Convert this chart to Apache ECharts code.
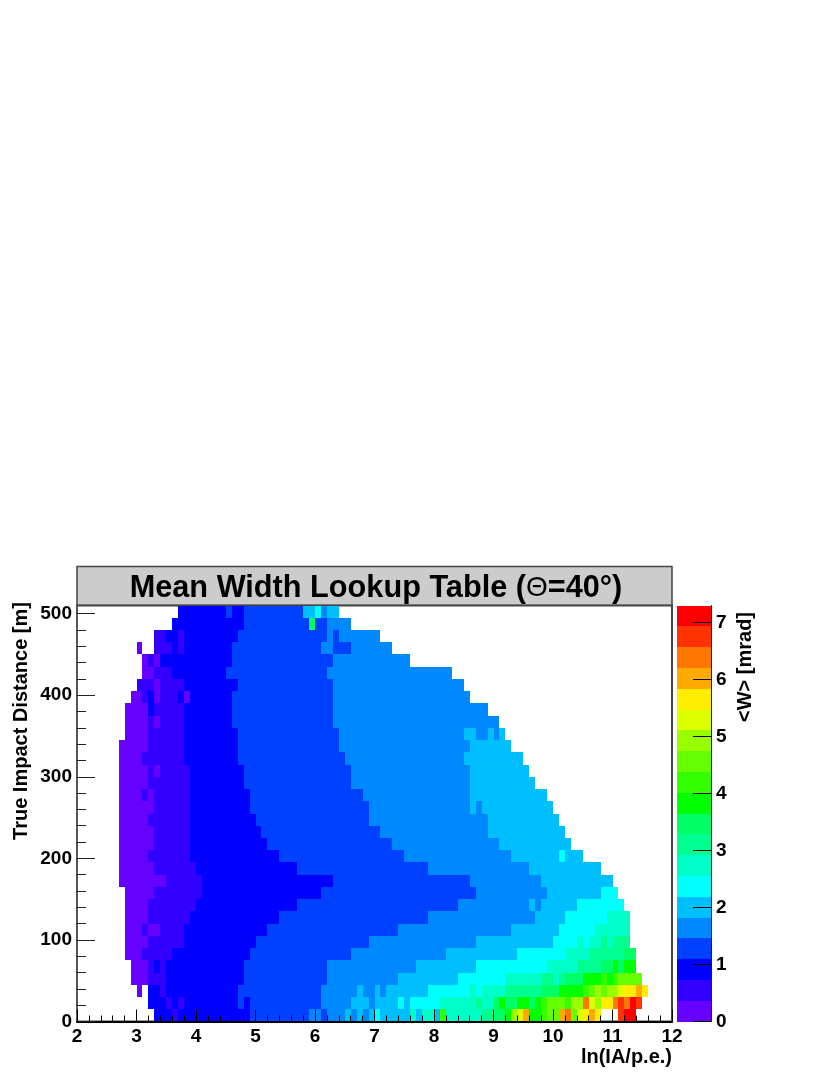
<!DOCTYPE html>
<html>
<head>
<meta charset="utf-8">
<style>html,body{margin:0;padding:0;background:#fff}#c{width:830px;height:1075px}</style>
<script src="https://cdn.jsdelivr.net/npm/echarts@6/dist/echarts.min.js"></script>
</head>
<body>
<div id="c"></div>
<script>
// Mean width <W> [mrad]. Each row is one distance bin: first the left edge, then pairs (value, right edge of the run).
const d495 = [3.7, .9,4.5, 1.3,4.6, .9,4.8, 1.3,5.8, 2,6.0, 2.4,6.1, 1.6,6.2, 2,6.4];
const d480 = [3.6, .9,4.8, 1.3,5.9, 3.5,6.0, 1.3,6.2, 1.6,6.6];
const d465 = [3.3, .5,3.5, .9,3.7, .5,3.8, .9,4.7, 1.3,6.2, 1.6,6.3, 1.3,6.4, 1.6,7.1];
const d450 = [3.0, .2,3.1, null,3.3, .5,3.6, .9,3.7, .5,3.8, .9,4.6, 1.3,6.1, 1.6,6.3, 1.3,6.6, 1.6,7.3];
const d435 = [3.1, .2,3.2, .5,3.3, .2,3.4, .9,4.6, 1.3,6.3, 1.6,7.6];
const d420 = [3.1, .2,3.3, .5,3.6, .9,4.5, 1.3,6.2, 1.6,8.3];
const d405 = [3.0, .5,3.3, .2,3.4, .5,3.8, .9,4.7, 1.3,6.3, 1.6,8.5];
const d390 = [2.9, .2,3.1, .5,3.2, .9,3.3, .2,3.4, .5,3.7, .9,3.8, .2,3.9, .9,4.6, 1.3,6.3, 1.6,8.6];
const d375 = [2.8, .2,3.2, .9,3.3, .5,3.8, .9,4.6, 1.3,6.3, 1.6,8.9];
const d360 = [2.8, .2,3.2, .5,3.3, .2,3.4, .5,3.8, .9,4.6, 1.3,6.3, 1.6,9.1];
const d345 = [2.8, .2,3.2, .5,3.8, .9,4.7, 1.3,6.4, 1.6,8.5, 2,8.7, 1.6,8.9, 2,9.0, 1.6,9.1, 2,9.2];
const d330 = [2.7, .2,3.2, .5,3.8, .9,4.7, 1.3,6.4, 1.6,8.6, 2,9.3];
const d315 = [2.7, .2,3.1, .5,3.8, .9,4.7, 1.3,6.5, 1.6,8.5, 2,9.5];
const d300 = [2.7, .2,3.2, .5,3.3, .2,3.4, .5,3.9, .9,4.8, 1.3,6.6, 1.6,8.6, 2,9.6];
const d285 = [2.7, .2,3.2, .5,3.9, .9,4.8, 1.3,6.6, 1.6,8.6, 2,9.7];
const d270 = [2.7, .2,3.1, .5,3.2, .2,3.3, .5,3.9, .9,4.9, 1.3,6.8, 1.6,8.6, 2,9.9];
const d255 = [2.7, .2,3.3, .5,3.9, .9,4.9, 1.3,6.9, 1.6,8.6, 2,8.7, 1.6,8.8, 2,10.0];
const d240 = [2.7, .2,3.2, .5,3.9, .9,5.0, 1.3,6.9, 1.6,8.9, 2,10.1];
const d225 = [2.7, .2,3.3, .5,3.9, .9,5.1, 1.3,7.1, 1.6,8.9, 2,10.2];
const d210 = [2.7, .2,3.3, .5,3.9, .9,5.2, 1.3,7.3, 1.6,9.1, 2,10.3];
const d195 = [2.7, .2,3.2, .5,3.9, .9,5.4, 1.3,7.5, 1.6,9.3, 2,10.1, 2.4,10.2, 2,10.5];
const d180 = [2.7, .2,3.3, .5,4.0, .9,5.7, 1.3,7.9, 1.6,9.6, 2,10.8];
const d165 = [2.7, .2,3.5, .5,4.1, .9,6.3, 1.3,8.6, 1.6,9.8, 2,11.0];
const d150 = [2.8, .2,3.3, .5,4.1, .9,6.1, 1.3,8.7, 1.6,9.9, 2,10.8, 2.4,11.1];
const d135 = [2.8, .2,3.2, .5,4.0, .9,5.7, 1.3,8.4, 1.6,9.6, 2,9.7, 1.6,9.8, 2,10.4, 2.4,11.2];
const d120 = [2.8, .2,3.2, .5,3.9, .9,5.4, 1.3,7.9, 1.6,9.7, 2,10.2, 2.4,10.9, 2.7,11.3];
const d105 = [2.8, .2,3.1, .5,3.2, .2,3.4, .5,3.8, .9,5.2, 1.3,7.4, 1.6,9.3, 2,10.1, 2.4,10.7, 2.7,11.3];
const d90  = [2.8, .2,3.2, .5,3.8, .9,5.0, 1.3,6.9, 1.6,8.7, 2,10.0, 2.4,10.4, 2.7,10.5, 2.4,10.6, 2.7,10.8, 3.1,10.9, 2.7,11.0, 3.1,11.3];
const d75  = [2.8, .2,3.1, .5,3.6, .9,4.9, 1.3,6.6, 1.6,8.2, 2,9.4, 2.4,10.2, 2.7,10.6, 3.1,11.2, 3.5,11.4];
const d60  = [2.9, .2,3.2, .5,3.3, .9,3.4, .5,3.5, .9,4.8, 1.3,6.2, 1.6,7.7, 2,8.7, 2.4,9.9, 2.7,10.4, 3.1,10.8, 3.5,11.0, 3.8,11.1, 3.5,11.2, 3.8,11.4];
const d45  = [2.9, .2,3.2, .5,3.5, .9,4.8, 1.3,6.2, 1.6,7.4, 2,8.4, 2.4,9.2, 2.7,9.8, 3.1,10.0, 2.7,10.1, 3.1,10.2, 3.5,10.5, 3.8,10.8, 4.2,10.9, 3.8,11.0, 4.2,11.1, 4.6,11.5];
const d30  = [3.0, .2,3.1, null,3.2, .9,3.4, .5,3.5, .9,4.7, 1.3,6.1, 1.6,6.7, 2,6.8, 1.6,7.0, 2,7.1, 1.6,7.2, 2,7.9, 2.4,8.6, 2.7,8.7, 2.4,8.8, 2.7,9.2, 3.1,9.8, 3.5,10.1, 3.8,10.5, 4.2,10.6, 4.6,10.7, 4.9,10.8, 4.6,10.9, 4.9,11.1, 5.3,11.2, 5.7,11.4, 6,11.5, 5.7,11.6];
const d15  = [3.2, .9,3.5, .5,3.6, .9,3.7, .5,3.8, .9,4.7, 1.3,4.8, .9,4.9, 1.3,6.1, 1.6,6.6, 2,6.9, 1.6,7.0, 2,7.4, 2.4,7.5, 2,7.6, 2.4,8.1, 2.7,8.7, 3.1,8.8, 2.7,9.0, 3.5,9.1, 3.8,9.2, 3.5,9.4, 3.8,9.6, 3.5,9.7, 3.8,9.8, 4.2,9.9, 4.6,10.2, 4.2,10.3, 4.9,10.5, 6.4,10.6, 5.3,10.7, 4.9,10.8, 5.7,11.0, 6.4,11.1, 6.8,11.2, 6.4,11.3, 7.1,11.4, 6.8,11.5];
const d0   = [3.3, .9,3.6, .5,3.7, .9,4.9, 1.3,5.9, 1.6,6.1, 1.3,6.2, 1.6,6.5, 2,6.6, 1.6,6.7, 2,6.8, 1.6,6.9, 2,7.0, 2.4,7.1, 2,7.6, 2.7,7.7, 2,7.8, 2.7,8.0, 2,8.1, 4.2,8.2, 2.7,8.8, 3.1,9.0, 3.5,9.2, 3.8,9.3, 4.9,9.4, 5.3,9.5, 6,9.6, 3.8,9.8, 4.2,9.9, 4.6,10.1, 6,10.2, 6.4,10.3, 4.6,10.4, 5.3,10.5, 5.7,10.6, 6,10.7, 5.7,10.8, null,11.1, 6.8,11.2, 7.1,11.4];

const rowsByDistance = [d0,d15,d30,d45,d60,d75,d90,d105,d120,d135,d150,d165,d180,d195,d210,d225,d240,d255,d270,d285,d300,d315,d330,d345,d360,d375,d390,d405,d420,d435,d450,d465,d480,d495];
const BIN_X = 0.1, BIN_Y = 15, Z_MAX = 7.3;

const palette = ['#6600ff','#3300ff','#0000ff','#0040ff','#0088ff','#00bfff','#00ffff','#00ffc8','#00ff90','#00ff66','#00ff00','#33ff00','#66ff00','#99ff00','#ddff00','#ffee00','#ffaa00','#ff7700','#ff3300','#ff0000'];
const yMajor = [0,100,200,300,400,500];
const yMinor = [0,20,40,60,80,100,120,140,160,180,200,220,240,260,280,300,320,340,360,380,400,420,440,460,480,500];
const zTicks = [0,1,2,3,4,5,6,7];

const font = 'Liberation Sans';
const step = Z_MAX / palette.length;
const cells = [];
rowsByDistance.forEach((row, r) => {
  let bin = Math.round(row[0] / BIN_X);
  for (let i = 1; i < row.length; i += 2) {
    const end = Math.round(row[i + 1] / BIN_X);
    for (; bin < end; bin++) {
      if (row[i] !== null) cells.push([bin * BIN_X, r * BIN_Y, row[i]]);
    }
  }
});
const barCells = palette.map((c, i) => [0, i * step, (i + 0.5) * step]);

function rect(p0, p1, api) {
  const x0 = Math.round(p0[0]), x1 = Math.round(p1[0]);
  const y0 = Math.round(p0[1]), y1 = Math.round(p1[1]);
  return {
    type: 'rect',
    shape: { x: x0, y: y1, width: x1 - x0, height: y0 - y1 },
    style: { fill: api.visual('color') }
  };
}
const labelStyle = { fontFamily: font, fontWeight: 'bold', fontSize: 19, color: '#000' };

const chart = echarts.init(document.getElementById('c'), null, { renderer: 'canvas' });
chart.setOption({
  animation: false,
  backgroundColor: '#fff',
  title: {
    left: 371, top: 568, textAlign: 'center',
    text: '{b|Mean Width Lookup Table (}{t|Θ}{b|=40°)}',
    textStyle: { rich: {
      b: { fontFamily: font, fontWeight: 'bold', fontSize: 30.7, color: '#000' },
      t: { fontFamily: font, fontWeight: 'normal', fontSize: 28, color: '#000' }
    } }
  },
  graphic: [
    { type: 'rect', z: -1, shape: { x: 77, y: 566.5, width: 595, height: 39 }, style: { fill: '#cccccc', stroke: '#444', lineWidth: 1.5 } },
    { type: 'text', x: 21, y: 721, rotation: Math.PI / 2, style: { text: 'True Impact Distance [m]', fontFamily: font, fontWeight: 'bold', fontSize: 20, fill: '#000', align: 'center', verticalAlign: 'middle' } },
    { type: 'text', x: 745, y: 667, rotation: Math.PI / 2, style: { text: '<W> [mrad]', fontFamily: font, fontWeight: 'bold', fontSize: 20, fill: '#000', align: 'center', verticalAlign: 'middle' } }
  ],
  grid: [
    { left: 77, top: 605.5, width: 595, height: 416, show: true, borderColor: '#444', borderWidth: 2, backgroundColor: '#fff', containLabel: false },
    { left: 677, top: 605.5, width: 34, height: 416, containLabel: false }
  ],
  visualMap: {
    show: false, type: 'piecewise', dimension: 2, seriesIndex: [0, 1],
    pieces: palette.map((c, i) => ({ gte: i * step, lt: (i + 1) * step, color: c }))
  },
  xAxis: [
    {
      gridIndex: 0, type: 'value', min: 2, max: 12, interval: 1, z: 5,
      name: 'ln(IA/p.e.)', nameLocation: 'end', nameGap: 0,
      nameTextStyle: { fontFamily: font, fontWeight: 'bold', fontSize: 20, color: '#000', align: 'right', verticalAlign: 'top', padding: [26, 0, 0, 0] },
      axisLine: { show: true, onZero: false, lineStyle: { color: '#000', width: 2 } },
      axisTick: { show: true, inside: true, length: 12, lineStyle: { color: '#000', width: 1 } },
      minorTick: { show: true, splitNumber: 5, length: 6, lineStyle: { color: '#000', width: 1 } },
      axisLabel: Object.assign({ margin: 6, hideOverlap: false }, labelStyle),
      splitLine: { show: false }
    },
    { gridIndex: 1, type: 'value', min: 0, max: 1, show: false }
  ],
  yAxis: [
    {
      gridIndex: 0, type: 'value', min: 0, max: 510, interval: 100, position: 'left', z: 5,
      axisLine: { show: true, onZero: false, lineStyle: { color: '#555', width: 2 } },
      axisTick: { show: true, inside: true, length: 18, customValues: yMajor, lineStyle: { color: '#222', width: 1 } },
      axisLabel: Object.assign({ margin: 5, customValues: yMajor, hideOverlap: false }, labelStyle),
      splitLine: { show: false }
    },
    {
      gridIndex: 0, type: 'value', min: 0, max: 510, interval: 100, position: 'left', z: 5,
      axisLine: { show: false },
      axisTick: { show: true, inside: true, length: 9, customValues: yMinor, lineStyle: { color: '#222', width: 1 } },
      axisLabel: { show: false },
      splitLine: { show: false }
    },
    {
      gridIndex: 1, type: 'value', min: 0, max: Z_MAX, interval: 1, position: 'right', z: 5,
      axisLine: { show: true, onZero: false, lineStyle: { color: '#222', width: 1 } },
      axisTick: { show: true, inside: true, length: 18, customValues: zTicks, lineStyle: { color: '#000', width: 1 } },
      axisLabel: Object.assign({ margin: 5, customValues: zTicks, hideOverlap: false }, labelStyle),
      splitLine: { show: false }
    }
  ],
  series: [
    {
      type: 'custom', xAxisIndex: 0, yAxisIndex: 0, data: cells, z: 2,
      encode: { x: 0, y: 1 }, clip: true,
      renderItem: (params, api) => rect(
        api.coord([api.value(0), api.value(1)]),
        api.coord([api.value(0) + BIN_X, api.value(1) + BIN_Y]), api)
    },
    {
      type: 'custom', xAxisIndex: 1, yAxisIndex: 2, data: barCells, z: 2,
      encode: { x: 0, y: 1 },
      renderItem: (params, api) => rect(
        api.coord([0, api.value(1)]),
        api.coord([1, api.value(1) + step]), api)
    }
  ]
});
</script>
</body>
</html>
